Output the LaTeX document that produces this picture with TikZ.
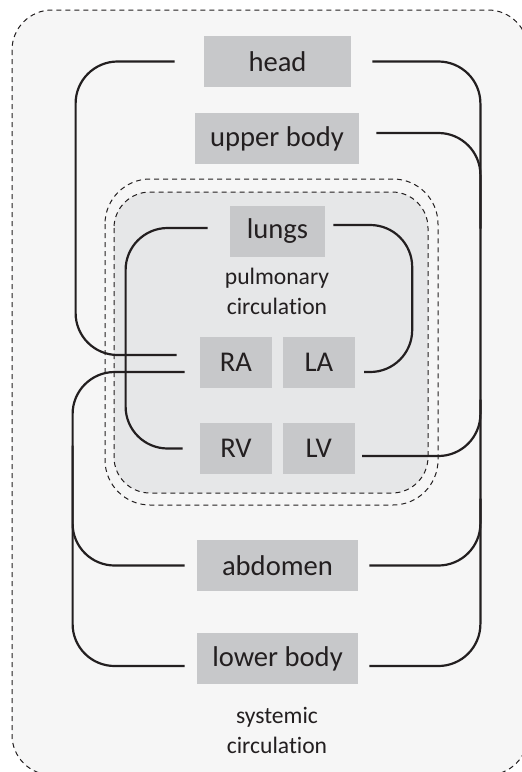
\documentclass[tikz,border=0pt]{standalone}
\usepackage{fontspec}
\setmainfont{Carlito}[Ligatures=NoCommon]
\usetikzlibrary{positioning,calc}
\definecolor{boxgrey}{HTML}{C7C8CA}
\definecolor{pulmfill}{HTML}{E6E7E8}
\definecolor{sysfill}{HTML}{F6F6F6}
\definecolor{ink}{HTML}{231F20}
\tikzset{
  organ/.style={fill=boxgrey,text=ink,minimum height=25.5pt,inner sep=0pt,font=\fontsize{14.3}{17}\selectfont},
  chamber/.style={organ,minimum width=36pt},
  vessel/.style={draw=ink,line width=1.1pt,rounded corners=21pt},
  zone/.style={draw=ink,line width=0.5pt,dash pattern=on 2.5pt off 2pt},
  caption/.style={text=ink,align=center,font=\fontsize{11.8}{15}\selectfont},
}

\begin{document}
\begin{tikzpicture}[x=0.5pt,y=-0.5pt]
\clip (0,0) rectangle (522,772);
% systemic and pulmonary areas
\draw[zone,fill=sysfill,rounded corners=20pt] (12,10) rectangle (528,775);
\draw[zone,rounded corners=22.5pt] (105,179) rectangle (438,505);
\draw[zone,fill=pulmfill,rounded corners=18pt] (114,192) rectangle (428,493);

\node[organ,minimum width=73.5pt] (head) at (277.5,61.5) {head};
\node[organ,minimum width=82pt] (upper) at (277,138.5) {upper body};
\node[organ,minimum width=47.5pt] (lungs) at (277.5,231.5) {lungs};
\node[caption] (pulm) at (277,291) {pulmonary\\circulation};
\node[chamber] (ra) at (236,362.5) {RA};
\node[chamber,right=5pt of ra] (la) {LA};
\node[chamber] (rv) at (236,448.5) {RV};
\node[chamber,right=5pt of rv] (lv) {LV};
\node[organ,minimum width=80.5pt] (abd) at (277.5,565.5) {abdomen};
\node[organ,minimum width=80.5pt] (lower) at (277.5,658.5) {lower body};
\node[caption] (sys) at (277,730) {systemic\\circulation};

% veins back to the right atrium
\draw[vessel] ([xshift=-14.5pt]head.west) -| ([xshift=-62pt,yshift=3.75pt]ra.west) -- ([xshift=-11.5pt,yshift=3.75pt]ra.west);
\draw[vessel] ([xshift=-6pt,yshift=-3.75pt]lower.west) -| ([xshift=-63.5pt,yshift=-4.75pt]ra.west) -- ([xshift=-7.5pt,yshift=-4.75pt]ra.west);
\draw[vessel] ([xshift=-6pt]abd.west) -| ([xshift=-62pt,yshift=60pt]abd.west);

% aorta from the left ventricle
\draw[vessel] ([xshift=3.5pt,yshift=-3.75pt]lv.east) -| ([xshift=64.5pt]head.east) -- ([xshift=10.5pt]head.east);
\draw[vessel] ([xshift=8.5pt,yshift=2.75pt]upper.east) -| ([xshift=60.5pt,yshift=-45pt]upper.east);
\draw[vessel] ([xshift=5.5pt]abd.east) -| ([xshift=61pt,yshift=83pt]abd.east);
\draw[vessel] ([xshift=5.5pt,yshift=-3.75pt]lower.east) -| ([xshift=61pt,yshift=80pt]lower.east);

% pulmonary loop
\draw[vessel] ([xshift=-8.5pt]rv.west) -| ([xshift=-52pt,yshift=1.75pt]lungs.west) -- ([xshift=-11pt,yshift=1.75pt]lungs.west);
\draw[vessel] ([xshift=4pt,yshift=3.25pt]lungs.east) -| ([xshift=28.5pt,yshift=-4.75pt]la.east) -- ([xshift=4.5pt,yshift=-4.75pt]la.east);
\end{tikzpicture}
\end{document}
